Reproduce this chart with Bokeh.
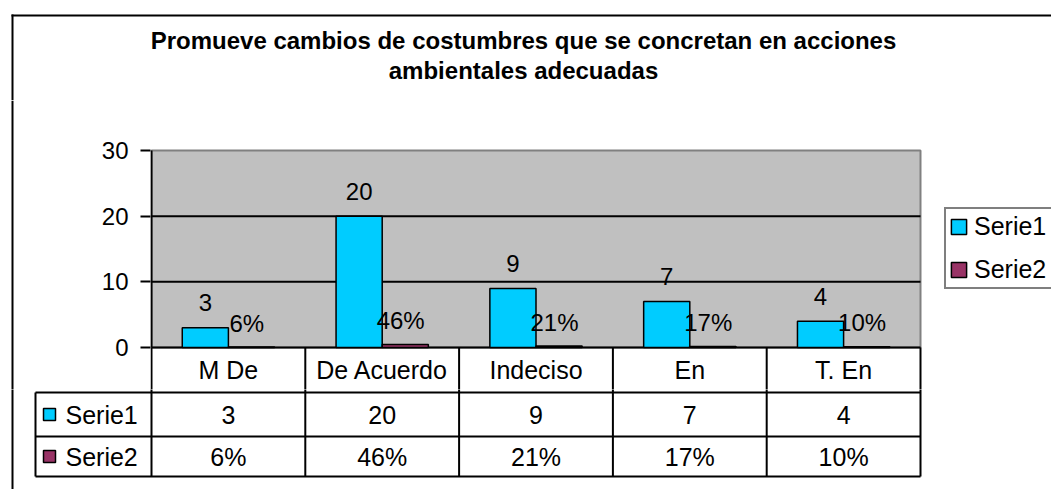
from bokeh.plotting import figure
from bokeh.layouts import column, row
from bokeh.models import Range1d, FixedTicker, Legend, LegendItem, ColumnDataSource
from bokeh.embed import file_html
from bokeh.resources import INLINE
from bokeh.core.properties import value

# ---- data ----
categories = ["M De", "De Acuerdo", "Indeciso", "En", "T. En"]
serie1 = [3, 20, 9, 7, 4]
serie2 = [0.06, 0.46, 0.21, 0.17, 0.10]
series_names = ["Serie1", "Serie2"]
series_colors = ["#00CCFF", "#993366"]
y_ticks = [0, 10, 20, 30]
title_lines = ["Promueve cambios de costumbres que se concretan en acciones",
               "ambientales adecuadas"]

FONT = "Liberation Sans"
FS = "24px"      # tick and data labels
FS_T = "25px"    # table and legend

# ---- layout geometry (px) ----
W, H = 1051, 489
PL, PR, PT, PB = 151, 920, 150, 347   # plot area
TOP_H = 100                            # title band height
SPLIT = 389                            # chart / table figure boundary
STRIP_W = 90
AXIS_W = 60
ncat = len(categories)
cw = (PR - PL) / ncat                  # px per category
ppu = (PB - PT) / y_ticks[-1]          # px per value unit
xpos = [i + 0.5 for i in range(ncat)]
HEAD_B = 392                           # bottom of category header row
TABLE_ROWS = [HEAD_B, 436, 476]        # rules of the series rows (page px)


def ux(px):
    return (px - PL) / cw


def uy(py):
    return (PB - py) / ppu


def bare(width, height, xr, yr):
    f = figure(width=width, height=height, x_range=xr, y_range=yr,
               x_axis_type=None, y_axis_type=None, output_backend="svg",
               toolbar_location=None, min_border=0)
    f.outline_line_color = None
    f.background_fill_color = "white"
    f.border_fill_color = "white"
    return f


# ---- title band ----
top = bare(W, TOP_H, Range1d(0, W), Range1d(TOP_H, 0))
top.segment(x0=[11, 12], y0=[15, 14], x1=[W, 12], y1=[15, TOP_H],
            line_color="black", line_width=2)
top.text(x=[523, 523], y=[40, 70], text=title_lines, text_align="center",
         text_baseline="middle", text_font=value(FONT), text_font_size="24px",
         text_font_style="bold", text_color="black")

# ---- left strip (outer border) ----
ch_h = SPLIT - TOP_H
strip = bare(STRIP_W, ch_h, Range1d(0, STRIP_W), Range1d(ch_h, 0))
strip.segment(x0=[12], y0=[0], x1=[12], y1=[ch_h], line_color="black", line_width=2)

# ---- chart ----
p = figure(width=W - STRIP_W, height=ch_h,
           x_range=Range1d(-(PL - STRIP_W - AXIS_W) / cw, (W - PL) / cw),
           y_range=Range1d(uy(SPLIT), uy(TOP_H)),
           x_axis_type=None, output_backend="svg", toolbar_location=None,
           min_border_left=AXIS_W, min_border_right=0, min_border_top=0,
           min_border_bottom=0)
p.outline_line_color = None
p.background_fill_color = "white"
p.border_fill_color = "white"
p.ygrid.visible = False

ax = p.yaxis[0]
ax.ticker = FixedTicker(ticks=y_ticks)
ax.axis_line_color = None
ax.major_tick_out = 10
ax.major_tick_in = 0
ax.minor_tick_line_color = None
ax.major_tick_line_width = 2
ax.major_tick_line_color = "black"
ax.major_label_standoff = 12
ax.major_label_text_font = FONT
ax.major_label_text_font_size = FS
ax.major_label_text_color = "black"

# plot area
p.quad(left=0, right=ncat, bottom=0, top=y_ticks[-1], fill_color="#C0C0C0",
       line_color="#808080", line_width=2)
mid = y_ticks[1:-1]
p.segment(x0=[0] * len(mid), x1=[ncat] * len(mid), y0=mid, y1=mid,
          line_color="black", line_width=2)
p.segment(x0=[0, 0], y0=[0, 0], x1=[0, ncat], y1=[y_ticks[-1], 0],
          line_color="black", line_width=2)
# category header row of the table
y_low = uy(SPLIT + 3)
p.segment(x0=list(range(ncat + 1)), y0=[0] * (ncat + 1),
          x1=list(range(ncat + 1)), y1=[y_low] * (ncat + 1),
          line_color="black", line_width=2)
p.text(x=xpos, y=[uy((PB + HEAD_B) / 2)] * ncat, text=categories,
       text_align="center", text_baseline="middle", text_font=value(FONT),
       text_font_size=FS_T, text_color="black")

src = ColumnDataSource(dict(
    x1=[x - 0.15 for x in xpos], x2=[x + 0.15 for x in xpos],
    xl2=[x + 0.12 for x in xpos],
    s1=serie1, s2=serie2,
    l1=[str(v) for v in serie1],
    l2=[f"{round(v * 100)}%" for v in serie2],
))
r1 = p.vbar(x="x1", top="s1", width=0.3, source=src, fill_color=series_colors[0],
            line_color="black", line_width=1.5)
r2 = p.vbar(x="x2", top="s2", width=0.3, source=src, fill_color=series_colors[1],
            line_color="black", line_width=1.5)
p.text(x="x1", y="s1", text="l1", source=src, text_align="center",
       text_baseline="middle", y_offset=-25, text_font=value(FONT),
       text_font_size=FS, text_color="black")
p.text(x="xl2", y="s2", text="l2", source=src, text_align="center",
       text_baseline="middle", y_offset=-24, text_font=value(FONT),
       text_font_size=FS, text_color="black")

legend = Legend(items=[LegendItem(label=series_names[0], renderers=[r1]),
                       LegendItem(label=series_names[1], renderers=[r2])],
                location=(944 - (STRIP_W + AXIS_W), SPLIT - 289),
                border_line_color="black", border_line_width=2,
                background_fill_color="white", background_fill_alpha=1,
                label_text_font=FONT, label_text_font_size=FS_T,
                label_text_color="black", label_width=100,
                glyph_width=19, glyph_height=19, label_height=28,
                spacing=14, padding=3, label_standoff=6, margin=0)
p.add_layout(legend)

# ---- data table (series rows) ----
tab_h = H - SPLIT
t = bare(W, tab_h, Range1d(ux(0), ux(W)), Range1d(tab_h, 0))
ry = [y - SPLIT for y in TABLE_ROWS]
TL = ux(35)
t.segment(x0=[TL] * 3, y0=ry, x1=[ncat] * 3, y1=ry,
          line_color="black", line_width=2)
t.segment(x0=list(range(ncat + 1)), y0=[-3] * (ncat + 1),
          x1=list(range(ncat + 1)), y1=[ry[2]] * (ncat + 1),
          line_color="black", line_width=2)
t.segment(x0=[TL, ux(12)], y0=[ry[0], -3], x1=[TL, ux(12)], y1=[ry[2], tab_h],
          line_color="black", line_width=2)

row_vals = [[str(v) for v in serie1], [f"{round(v * 100)}%" for v in serie2]]
for ri in range(2):
    yc = (ry[ri] + ry[ri + 1]) / 2
    t.text(x=xpos, y=[yc] * ncat, text=row_vals[ri], text_align="center",
           text_baseline="middle", text_font=value(FONT), text_font_size=FS_T,
           text_color="black")
    t.scatter(x=[ux(49)], y=[yc], marker="square", size=12,
              fill_color=series_colors[ri], line_color="black", line_width=1.5)
    t.text(x=[ux(65)], y=[yc], text=[series_names[ri]], text_align="left",
           text_baseline="middle", text_font=value(FONT), text_font_size=FS_T,
           text_color="black")

layout = column(top, row(strip, p), t)
open("out.html", "w").write(file_html(layout, INLINE))
